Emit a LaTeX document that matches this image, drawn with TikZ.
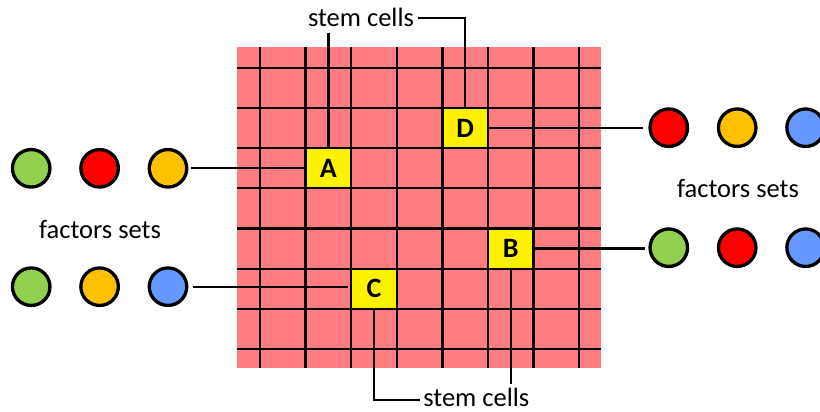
\documentclass[tikz,border=0pt]{standalone}
\usepackage{fontspec}
\setmainfont{Carlito}

\definecolor{tissue}{RGB}{255,124,128}
\definecolor{fgreen}{RGB}{146,208,80}
\definecolor{fred}{RGB}{255,0,0}
\definecolor{forange}{RGB}{255,192,0}
\definecolor{fblue}{RGB}{102,153,255}

\begin{document}
\begin{tikzpicture}[x=1pt, y=-1pt, line join=miter,
	cell/.style={fill=yellow, minimum width=45.6pt, minimum height=40.2pt, inner sep=0pt, font=\fontsize{28}{30}\selectfont\bfseries},
	factor/.style={circle, draw=black, line width=3.3pt, minimum size=37.5pt, inner sep=0pt},
	gridline/.style={line width=2.3pt},
	wire/.style={line width=2.3pt},
	lbl/.style={font=\fontsize{26.5}{30}\selectfont, anchor=base, inner sep=1pt}]
	\useasboundingbox (0,0) rectangle (820,412);
	\clip (0,0) rectangle (820,412);

	% Mô
	\fill[tissue] (236.7,47.3) rectangle (601,368.3);

	% Tế bào gốc
	\node[cell] (A) at (328.4,168.2) {A};
	\node[cell] (D) at (465.2,128.0) {D};
	\node[cell] (B) at (510.8,248.6) {B};
	\node[cell] (C) at (374.0,288.8) {C};

	% Lưới
	\foreach \i in {0,...,7}
		\draw[gridline] ({260+45.6*\i},47.3) -- ({260+45.6*\i},368.3);
	\foreach \j in {0,...,7}
		\draw[gridline] (236.7,{67.7+40.2*\j}) -- (601,{67.7+40.2*\j});

	% Nhãn
	\node[lbl] (stemtop) at (361,27) {stem cells};
	\node[lbl] (stembot) at (476.3,406) {stem cells};
	\node[lbl] (factl) at (100,238) {factors sets};
	\node[lbl] (factr) at (738,197.3) {factors sets};

	% Bộ yếu tố bên trái
	\foreach \c [count=\i] in {fgreen, fred, forange}
		\node[factor, fill=\c] (lt\i) at ({31.2+68.4*(\i-1)},168.3) {};
	\foreach \c [count=\i] in {fgreen, forange, fblue}
		\node[factor, fill=\c] (lb\i) at ({31.2+68.4*(\i-1)},286.7) {};

	% Bộ yếu tố bên phải
	\foreach \c [count=\i] in {fred, forange, fblue}
		\node[factor, fill=\c] (rt\i) at ({668.8+68.4*(\i-1)},127.7) {};
	\foreach \c [count=\i] in {fgreen, fred, fblue}
		\node[factor, fill=\c] (rb\i) at ({668.8+68.4*(\i-1)},247.7) {};

	% Đường nối
	\draw[wire, shorten <=3pt] (lt3.east) -- (lt3.east -| A.west);
	\draw[wire, shorten <=5pt, shorten >=3pt] (lb3.east) -- (lb3.east -| C.west);
	\draw[wire, shorten >=5.5pt] (D.east) -- (D.east -| rt1.west);
	\draw[wire, shorten >=3.3pt] (B.east) -- (B.east -| rb1.west);
	\draw[wire] (A.north) -- ([yshift=-5pt]A.north |- stemtop.south);
	\draw[wire, shorten <=3pt] (stemtop.east) -| (D.north);
	\draw[wire] (B.south) -- ([yshift=2pt]B.south |- stembot.north);
	\draw[wire] (C.south) |- ([yshift=-3pt, xshift=-2pt]stembot.west);
\end{tikzpicture}
\end{document}
